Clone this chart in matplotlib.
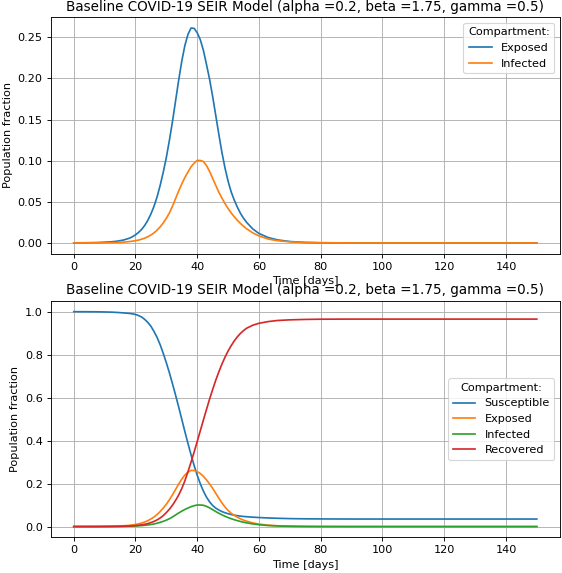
import matplotlib
matplotlib.use("Agg")
import matplotlib.pyplot as plt


# values
days = [0, 4, 8, 12, 14, 16, 18, 19, 20, 21, 22, 23, 24, 25, 26, 27, 28, 29, 30, 31,
        32, 33, 34, 35, 36, 37, 38, 39, 40, 41, 42, 43, 44, 45, 46, 47, 48, 49, 50,
        51, 52, 53, 54, 55, 56, 58, 60, 63, 66, 70, 75, 80, 90, 100, 110, 120, 130,
        140, 150]

susceptible = [1.0, 0.9998, 0.9994, 0.998, 0.9965, 0.9945, 0.992, 0.990, 0.987, 0.982,
               0.975, 0.964, 0.950, 0.932, 0.908, 0.880, 0.846, 0.806, 0.762, 0.715,
               0.664, 0.611, 0.556, 0.499, 0.442, 0.387, 0.334, 0.284, 0.239, 0.199,
               0.165, 0.137, 0.115, 0.098, 0.086, 0.077, 0.0698, 0.0642, 0.0598, 0.056,
               0.053, 0.0505, 0.0485, 0.047, 0.0457, 0.0437, 0.042, 0.040, 0.0385,
               0.037, 0.036, 0.0355, 0.035, 0.035, 0.035, 0.035, 0.035, 0.035, 0.035]

exposed = [0.0001, 0.0002, 0.0005, 0.0013, 0.0021, 0.0034, 0.0057, 0.0075, 0.0098, 0.0128,
           0.0165, 0.0213, 0.0275, 0.0352, 0.0445, 0.056, 0.070, 0.086, 0.104, 0.125,
           0.148, 0.173, 0.198, 0.221, 0.240, 0.2535, 0.2612, 0.2608, 0.2555, 0.247,
           0.234, 0.217, 0.199, 0.178, 0.155, 0.132, 0.110, 0.091, 0.075, 0.062,
           0.052, 0.0435, 0.036, 0.030, 0.025, 0.017, 0.0115, 0.0065, 0.0037,
           0.0017, 0.0006, 0.0002, 0.0, 0.0, 0.0, 0.0, 0.0, 0.0, 0.0]

infected = [0.0, 0.0001, 0.0001, 0.0003, 0.0005, 0.0009, 0.0016, 0.0021, 0.0027, 0.0035,
            0.0045, 0.0058, 0.0075, 0.0096, 0.0122, 0.0155, 0.0195, 0.0243, 0.030, 0.0365,
            0.0447, 0.054, 0.0632, 0.0718, 0.0795, 0.0862, 0.0925, 0.097, 0.1003, 0.1002,
            0.099, 0.094, 0.087, 0.0785, 0.070, 0.0618, 0.0545, 0.0478, 0.0418, 0.0365,
            0.0318, 0.0275, 0.0237, 0.0202, 0.0172, 0.0122, 0.0085, 0.0047, 0.0027,
            0.0013, 0.0005, 0.0002, 0.0, 0.0, 0.0, 0.0, 0.0, 0.0, 0.0]

recovered = [0.0, 0.0, 0.0001, 0.0005, 0.0009, 0.0015, 0.0026, 0.0034, 0.0045, 0.006,
             0.008, 0.0107, 0.014, 0.0185, 0.024, 0.031, 0.040, 0.051, 0.065, 0.081,
             0.100, 0.122, 0.147, 0.177, 0.213, 0.255, 0.300, 0.347, 0.396, 0.446,
             0.496, 0.545, 0.593, 0.638, 0.681, 0.720, 0.756, 0.788, 0.817, 0.842,
             0.864, 0.883, 0.899, 0.912, 0.923, 0.937, 0.946, 0.954, 0.959,
             0.962, 0.964, 0.965, 0.9655, 0.9655, 0.9655, 0.9655, 0.9655, 0.9655, 0.9655]

title = "Baseline COVID-19 SEIR Model (alpha =0.2, beta =1.75, gamma =0.5)"

dpi = 81
fig, (ax1, ax2) = plt.subplots(2, 1, figsize=(562/dpi, 573/dpi), dpi=dpi)
fig.subplots_adjust(left=0.090, right=0.9964, top=0.9698, bottom=0.0623, hspace=0.2)

ax1.plot(days, exposed, label="Exposed")
ax1.plot(days, infected, label="Infected")
ax1.set(title=title, xlabel="Time [days]", ylabel="Population fraction")
ax1.grid(True)
ax1.legend(title="Compartment:", loc="upper right")

ax2.plot(days, susceptible, label="Susceptible")
ax2.plot(days, exposed, label="Exposed")
ax2.plot(days, infected, label="Infected")
ax2.plot(days, recovered, label="Recovered")
ax2.set(title=title, xlabel="Time [days]", ylabel="Population fraction")
ax2.grid(True)
ax2.legend(title="Compartment:", loc="center right")

fig.savefig("out.png", dpi=dpi)
